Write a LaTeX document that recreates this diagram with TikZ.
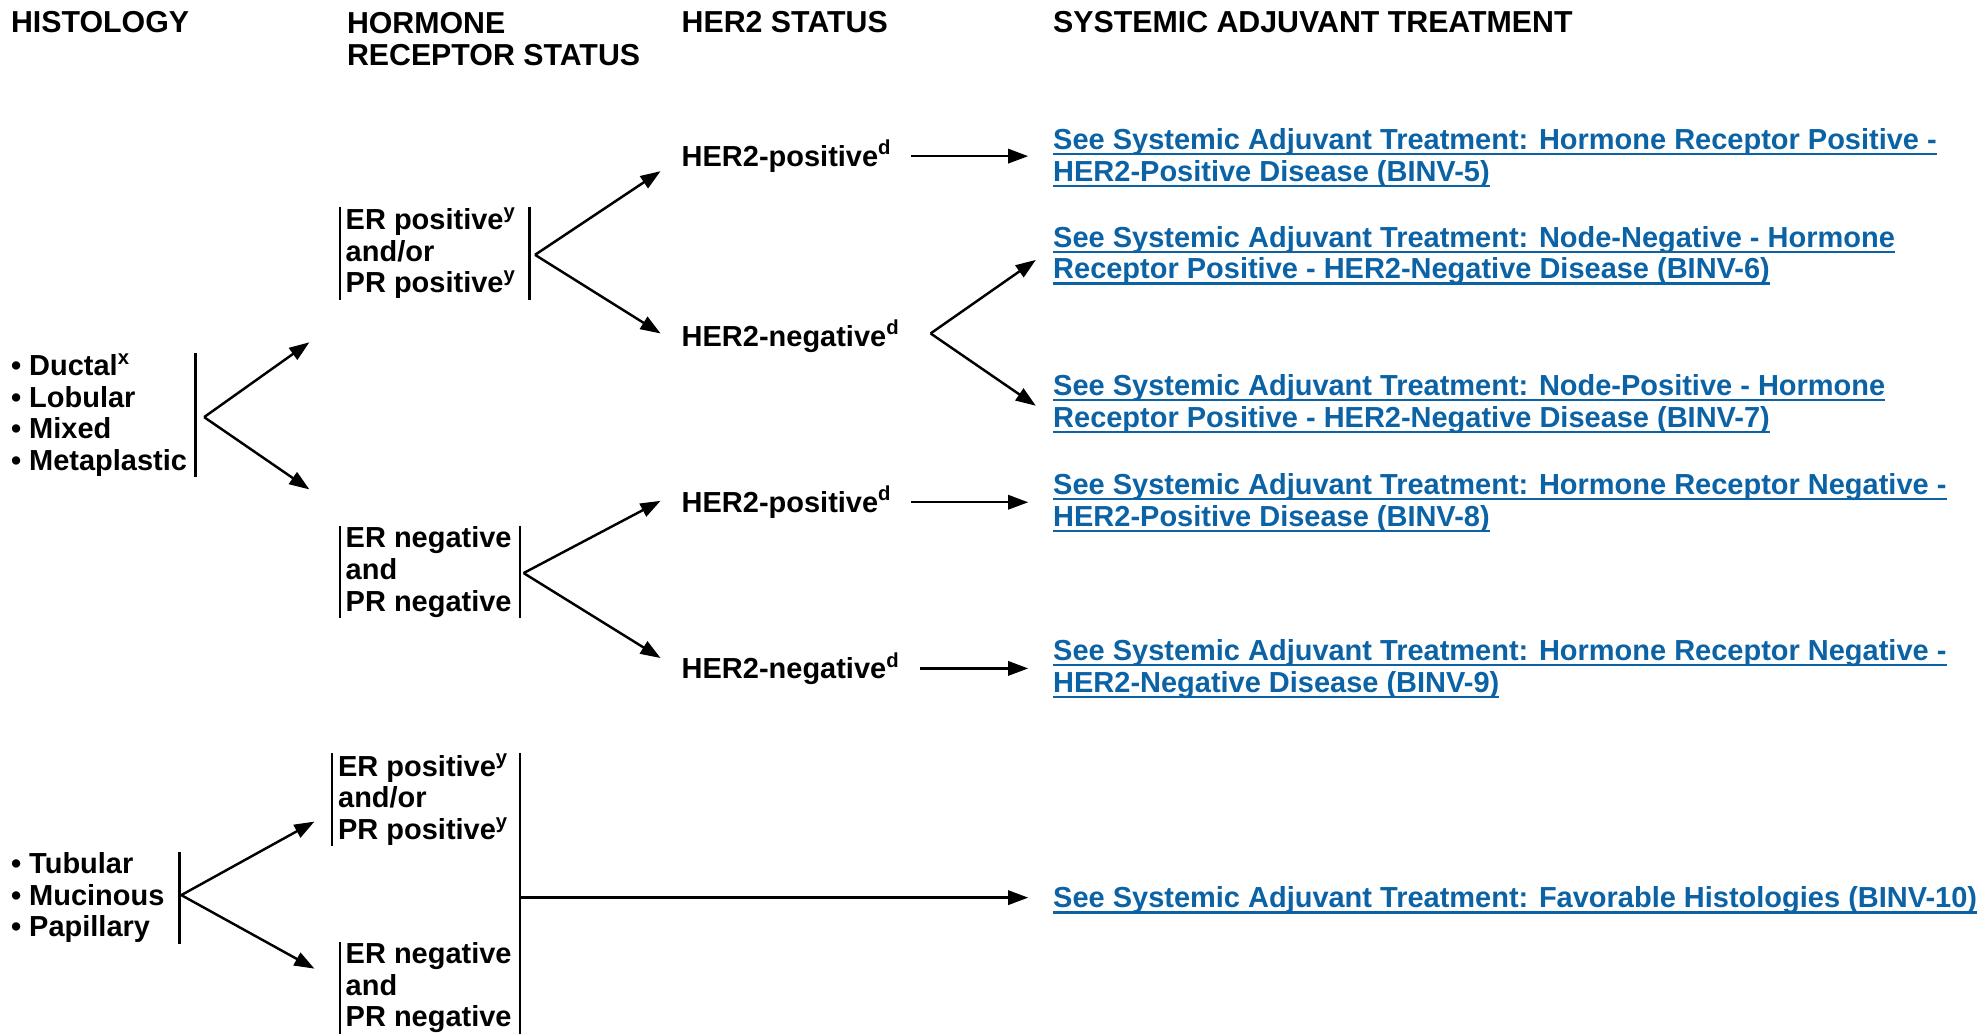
\documentclass[tikz,border=0pt]{standalone}
\usepackage{fontspec}
\setmainfont{Liberation Sans}
\usetikzlibrary{arrows.meta}
\definecolor{linkblue}{HTML}{0B63A6}
\newsavebox{\lkbox}
\newcommand{\lk}[1]{\sbox{\lkbox}{#1}\rlap{\rule[-1.3pt]{\wd\lkbox}{0.5pt}}\usebox{\lkbox}}
\tikzset{
    lbl/.style={font=\fontsize{6.5}{7.1}\selectfont\bfseries, align=left, anchor=base west, inner ysep=0pt, inner xsep=0pt},
    headlbl/.style={lbl, font=\fontsize{6.8}{7.3}\selectfont\bfseries},
    linklbl/.style={lbl, text=linkblue, inner xsep=0.19cm},
    her2lbl/.style={lbl, inner xsep=0.14cm},
    arr/.style={-{Triangle[length=4.5pt,width=3.2pt]}, line width=0.55pt},
    sidebar/.style={line width=0.55pt}
}
\begin{document}
\begin{tikzpicture}[x=0.01cm, y=-0.01cm]
    \useasboundingbox (0,0) rectangle (1568,815);
    % Column headers (multi-line nodes sit on their last baseline)
    \node[headlbl] (hHist) at (8,26) {HISTOLOGY};
    \node[headlbl] (hHR) at (273,52) {HORMONE\\RECEPTOR STATUS};
    \node[headlbl] (hHer) at (537,26) {HER2 STATUS};
    \node[headlbl] (hSys) at (830,26) {SYSTEMIC ADJUVANT TREATMENT};
    % Histology groups
    \node[lbl, inner xsep=0.06cm] (histA) at (2,371) {• Ductal\textsuperscript{x}\\• Lobular\\• Mixed\\• Metaplastic};
    \node[lbl, inner xsep=0.11cm] (histB) at (-3,739) {• Tubular\\• Mucinous\\• Papillary};
    \draw[sidebar] (histA.north east) -- (histA.south east);
    \draw[sidebar] (histB.north east) -- (histB.south east);
    % Hormone receptor status
    \node[lbl, inner xsep=0.04cm] (hrA) at (268,231) {ER positive\textsuperscript{y}\\and/or\\PR positive\textsuperscript{y}};
    \node[lbl, inner xsep=0.04cm] (hrB) at (268,482) {ER negative\\and\\PR negative};
    \node[lbl, inner xsep=0.04cm] (hrC) at (262,662) {ER positive\textsuperscript{y}\\and/or\\PR positive\textsuperscript{y}};
    \node[lbl, inner xsep=0.04cm] (hrD) at (268,810) {ER negative\\and\\PR negative};
    \draw[sidebar] (hrA.north west) -- (hrA.south west);
    \draw[sidebar] ([xshift=0.05cm]hrA.north east) -- ([xshift=0.05cm]hrA.south east);
    \draw[sidebar] (hrB.north west) -- (hrB.south west);
    \draw[sidebar] ([xshift=0.02cm]hrB.north east) -- ([xshift=0.02cm]hrB.south east);
    \draw[sidebar] (hrC.north west) -- (hrC.south west);
    \draw[sidebar] (hrD.north west) -- (hrD.south west);
    \draw[sidebar] ([xshift=0.02cm]hrC.north -| hrD.east) -- ([xshift=0.02cm]hrD.south east);
    % HER2 status
    \node[her2lbl] (her2pA) at (523,131) {HER2-positive\textsuperscript{d}};
    \node[her2lbl] (her2nA) at (523,273) {HER2-negative\textsuperscript{d}};
    \node[her2lbl] (her2pB) at (523,404) {HER2-positive\textsuperscript{d}};
    \node[her2lbl] (her2nB) at (523,535) {HER2-negative\textsuperscript{d}};
    % Systemic adjuvant treatment links
    \node[linklbl] (lnkA) at (811,143) {\lk{See Systemic Adjuvant Treatment: Hormone Receptor Positive -}\\\lk{HER2-Positive Disease (BINV-5)}};
    \node[linklbl] (lnkB) at (811,220) {\lk{See Systemic Adjuvant Treatment: Node-Negative - Hormone}\\\lk{Receptor Positive - HER2-Negative Disease (BINV-6)}};
    \node[linklbl] (lnkC) at (811,337) {\lk{See Systemic Adjuvant Treatment: Node-Positive - Hormone}\\\lk{Receptor Positive - HER2-Negative Disease (BINV-7)}};
    \node[linklbl] (lnkD) at (811,415) {\lk{See Systemic Adjuvant Treatment: Hormone Receptor Negative -}\\\lk{HER2-Positive Disease (BINV-8)}};
    \node[linklbl] (lnkE) at (811,546) {\lk{See Systemic Adjuvant Treatment: Hormone Receptor Negative -}\\\lk{HER2-Negative Disease (BINV-9)}};
    \node[linklbl] (lnkF) at (811,716) {\lk{See Systemic Adjuvant Treatment: Favorable Histologies (BINV-10)}};
    % Fork points and arrow tips
    \coordinate (fA) at (161,329);
    \coordinate (tA1) at (244,270);
    \coordinate (tA2) at (244,386);
    \coordinate (fB) at (422,201);
    \coordinate (tB1) at (521,135);
    \coordinate (tB2) at (521,263);
    \coordinate (fC) at (413,452);
    \coordinate (tC1) at (521,395);
    \coordinate (tC2) at (521,519);
    \coordinate (fD) at (734,263);
    \coordinate (tD1) at (817,205);
    \coordinate (tD2) at (817,320);
    \coordinate (fE) at (143,706);
    \coordinate (tE1) at (248,648);
    \coordinate (tE2) at (248,764);
    \coordinate (jF) at (410,708);
    % Draw the forks
    \foreach \s/\t in {fA/tA1, fA/tA2, fB/tB1, fB/tB2, fC/tC1, fC/tC2, fD/tD1, fD/tD2, fE/tE1, fE/tE2} {
            \draw[arr] (\s) -- (\t);
        }
    % Straight arrows to the links
    \draw[arr] (her2pA.east) -- (her2pA.east -| lnkA.west);
    \draw[arr] (her2pB.east) -- (her2pB.east -| lnkD.west);
    \draw[arr] (her2nB.east) -- (her2nB.east -| lnkE.west);
    \draw[arr] (jF) -- (jF -| lnkF.west);
\end{tikzpicture}
\end{document}
